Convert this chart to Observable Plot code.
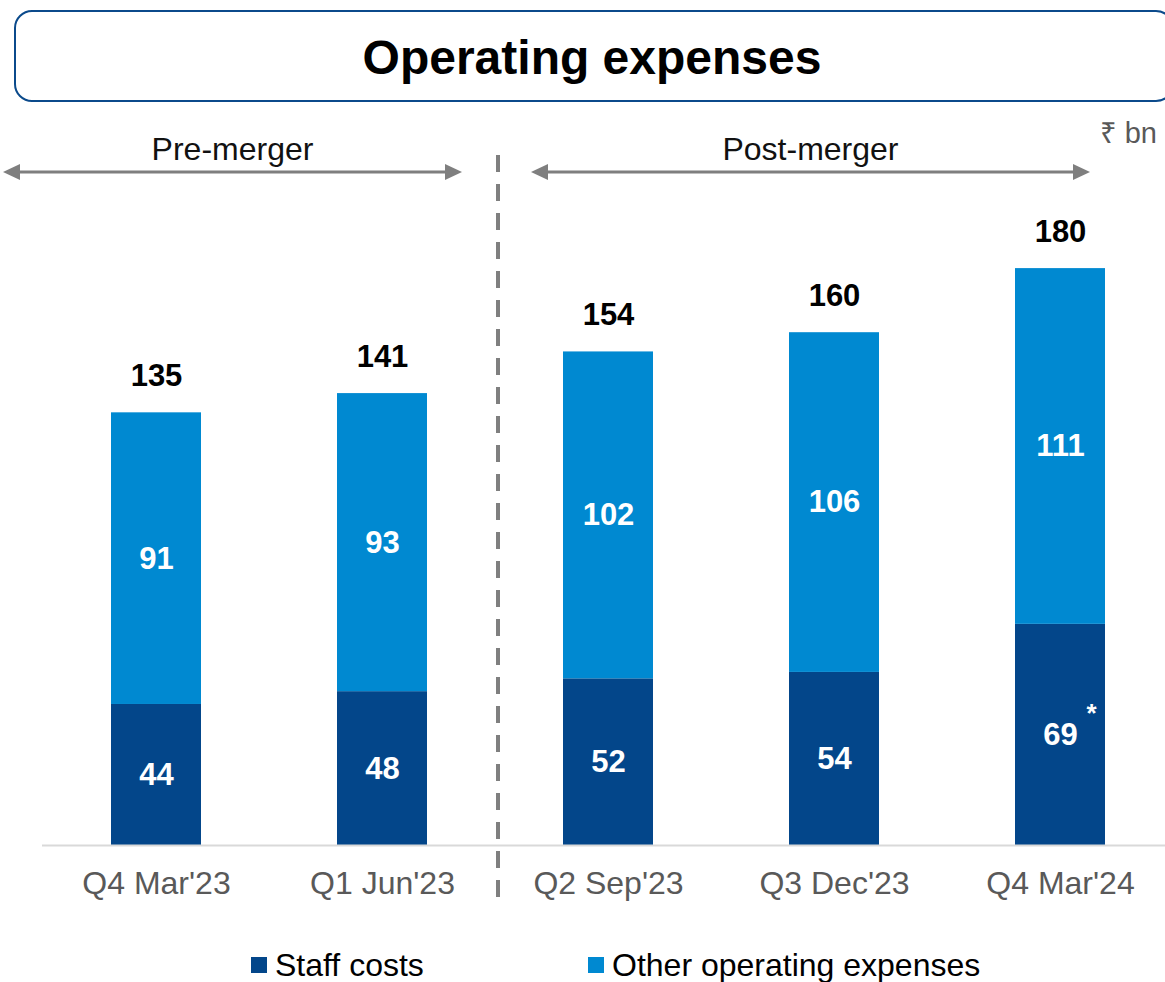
<!DOCTYPE html>
<html>
<head>
<meta charset="utf-8">
<script src="https://cdn.jsdelivr.net/npm/d3@7"></script>
<script src="https://cdn.jsdelivr.net/npm/@observablehq/plot@0.6"></script>
<style>
  html, body { margin: 0; padding: 0; background: #fff; }
  body { width: 1165px; height: 982px; position: relative; overflow: hidden;
         font-family: "Liberation Sans", Arial, sans-serif; }
  #titlebox { position: absolute; left: 14px; top: 10px; width: 1160px; height: 92px;
              box-sizing: border-box; border: 2.5px solid #0B4A8B; border-radius: 18px; }
  #title { position: absolute; left: 14px; width: 1156px; top: 34px; text-align: center;
           font-size: 48px; font-weight: bold; color: #000; line-height: 48px; }
  #unit { position: absolute; right: 8px; top: 115px; font-size: 29px; color: #595959; line-height: 36px; }
  #chart { position: absolute; left: 0; top: 105px; }
  #legend { position: absolute; top: 947px; left: 0; width: 1165px; height: 36px; }
  .item { position: absolute; top: 0; display: flex; align-items: center; font-size: 32px; color: #000; line-height: 36px; }
  .sw { width: 16px; height: 16px; margin-right: 8px; }
</style>
</head>
<body>
<div id="titlebox"></div>
<div id="title">Operating expenses</div>
<div id="unit">₹ bn</div>
<div id="chart"></div>
<div id="legend"></div>
<script>
// ---- data ----
const categories = ["Q4 Mar'23", "Q1 Jun'23", "Q2 Sep'23", "Q3 Dec'23", "Q4 Mar'24"];
const staffCosts = [44, 48, 52, 54, 69];
const otherOpex  = [91, 93, 102, 106, 111];
const totals     = [135, 141, 154, 160, 180];
const notes      = ["", "", "", "", "*"];
const seriesNames  = ["Staff costs", "Other operating expenses"];
const seriesColors = ["#03468A", "#0089D1"];
const phaseLabels  = ["Pre-merger", "Post-merger"];

// ---- tables ----
const rows = categories.flatMap((c, i) => [
  {cat: c, series: seriesNames[0], value: staffCosts[i]},
  {cat: c, series: seriesNames[1], value: otherOpex[i]}
]);
const totalRows = categories.map((c, i) => ({cat: c, total: totals[i]}));
const noteRows = categories.map((c, i) => ({cat: c, mid: staffCosts[i] / 2, note: notes[i]})).filter(d => d.note);

const font = "'Liberation Sans', Arial, sans-serif";

const plot = Plot.plot({
  width: 1165,
  height: 825,
  marginLeft: 42,
  marginRight: 0,
  marginTop: 99,
  marginBottom: 85,
  style: {fontFamily: font, overflow: "visible", background: "transparent"},
  x: {domain: categories, range: [41.5, 1175.5], paddingInner: 0.6, paddingOuter: 0.3, label: null},
  y: {domain: [0, 200], axis: null},
  color: {domain: seriesNames, range: seriesColors},
  marks: [
    Plot.barY(rows, {x: "cat", y: "value", fill: "series", z: "series", order: seriesNames}),
    Plot.text(rows, Plot.stackY({x: "cat", y: "value", z: "series", order: seriesNames,
      text: d => String(d.value), fill: "white", fontSize: 31, fontWeight: "bold"})),
    Plot.text(noteRows, {x: "cat", y: "mid", text: "note", dx: 31, dy: -21, fill: "white", fontSize: 26, fontWeight: "bold"}),
    Plot.text(totalRows, {x: "cat", y: "total", text: d => String(d.total), dy: -37, fill: "black", fontSize: 31, fontWeight: "bold"}),
    Plot.ruleY([0], {stroke: "#D9D9D9", strokeWidth: 2}),
    Plot.axisX({tickSize: 0, tickPadding: 38, lineAnchor: "middle", fontSize: 32, color: "#595959", fill: "#595959", label: null})
  ]
});
document.getElementById("chart").appendChild(plot);

// ---- annotations (positions derived from the x scale) ----
const xs = plot.scale("x");
const bw = xs.bandwidth;
const step = xs.step;
const start = c => xs.apply(c);
const sepX = (start(categories[1]) + bw + start(categories[2])) / 2 + 3;
const svg = d3.select(plot);
const g = svg.append("g").attr("class", "annotations");
const grey = "#7F7F7F";
g.append("line").attr("x1", sepX).attr("x2", sepX).attr("y1", 50).attr("y2", 795)
  .attr("stroke", grey).attr("stroke-width", 4).attr("stroke-dasharray", "17 12");

const arrowY = 67;
const spans = [
  [start(categories[0]) + bw / 2 - step / 2 - 40, sepX - 36],
  [sepX + 33, start(categories[4]) + bw / 2 + 30]
];
spans.forEach(([a, b], i) => {
  g.append("line").attr("x1", a + 10).attr("x2", b - 10).attr("y1", arrowY).attr("y2", arrowY)
    .attr("stroke", grey).attr("stroke-width", 3);
  g.append("path").attr("d", `M${a},${arrowY} L${a + 17},${arrowY - 8} L${a + 17},${arrowY + 8} Z`).attr("fill", grey);
  g.append("path").attr("d", `M${b},${arrowY} L${b - 17},${arrowY - 8} L${b - 17},${arrowY + 8} Z`).attr("fill", grey);
  g.append("text").attr("x", (a + b) / 2).attr("y", 45).attr("dy", "0.32em").attr("text-anchor", "middle")
    .attr("font-size", 32).attr("fill", "#111").attr("font-family", font).text(phaseLabels[i]);
});

// ---- legend ----
const legend = document.getElementById("legend");
const legendX = [251, 588];
seriesNames.forEach((name, i) => {
  const item = document.createElement("div");
  item.className = "item";
  item.style.left = legendX[i] + "px";
  const sw = document.createElement("div");
  sw.className = "sw";
  sw.style.background = seriesColors[i];
  const t = document.createElement("span");
  t.textContent = name;
  item.appendChild(sw);
  item.appendChild(t);
  legend.appendChild(item);
});
</script>
</body>
</html>
